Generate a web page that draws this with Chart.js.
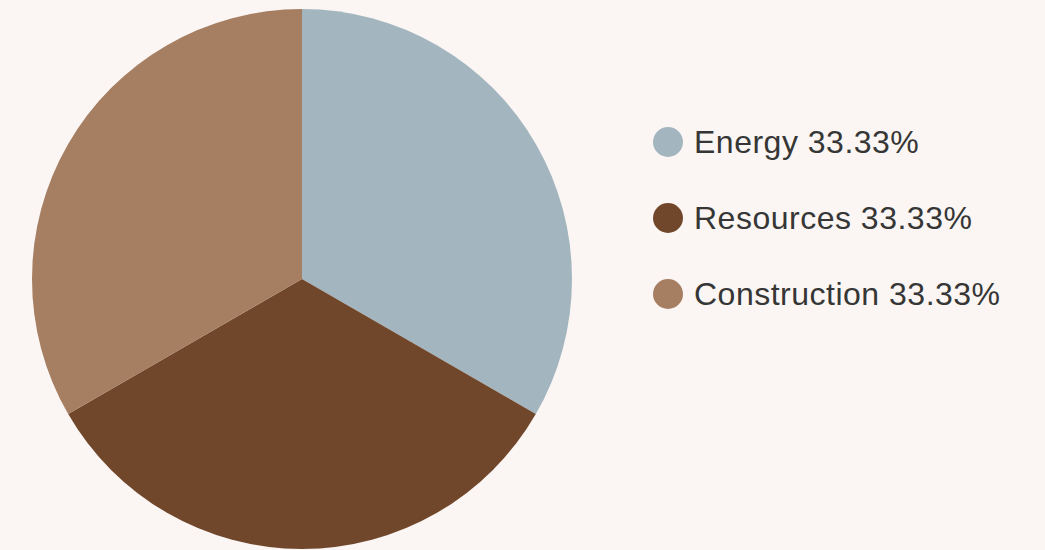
<!DOCTYPE html>
<html>
<head>
<meta charset="utf-8">
<script src="https://cdn.jsdelivr.net/npm/chart.js@4/dist/chart.umd.min.js"></script>
<style>
  html, body { margin: 0; padding: 0; background: #fbf6f3; }
  #wrap { position: relative; width: 1045px; height: 550px; }
  #pieBox { position: absolute; left: 0; top: 0; width: 604px; height: 550px; }
  #legend { position: absolute; left: 653px; top: 104px; font-family: "Liberation Sans", Arial, sans-serif; font-size: 32px; letter-spacing: 0.5px; color: #363636; }
  .row { height: 76px; display: flex; align-items: center; white-space: nowrap; }
  .dot { width: 30px; height: 30px; border-radius: 50%; margin-right: 11px; flex: none; }
</style>
</head>
<body>
<div id="wrap">
  <div id="pieBox"><canvas id="sectorPie"></canvas></div>
  <div id="legend"></div>
</div>
<script>
// 行业占比
const sectors = ['Energy', 'Resources', 'Construction'];
const shares = [33.33, 33.33, 33.33];
const sectorColors = ['#a3b6bf', '#71472c', '#a67e62'];

const total = shares.reduce((a, b) => a + b, 0);
const pct = v => (v / total * 100).toFixed(2) + '%';

const legend = document.getElementById('legend');
sectors.forEach((name, i) => {
    const row = document.createElement('div');
    row.className = 'row';
    const dot = document.createElement('span');
    dot.className = 'dot';
    dot.style.background = sectorColors[i];
    row.appendChild(dot);
    row.appendChild(document.createTextNode(name + ' ' + pct(shares[i])));
    legend.appendChild(row);
});

new Chart(document.getElementById('sectorPie'), {
    type: 'pie',
    data: {
        labels: sectors,
        datasets: [{ data: shares, backgroundColor: sectorColors, borderWidth: 0 }]
    },
    options: {
        responsive: true,
        maintainAspectRatio: false,
        animation: false,
        layout: { padding: { top: 9, bottom: 1 } },
        plugins: { legend: { display: false }, tooltip: { enabled: false } }
    }
});
</script>
</body>
</html>
